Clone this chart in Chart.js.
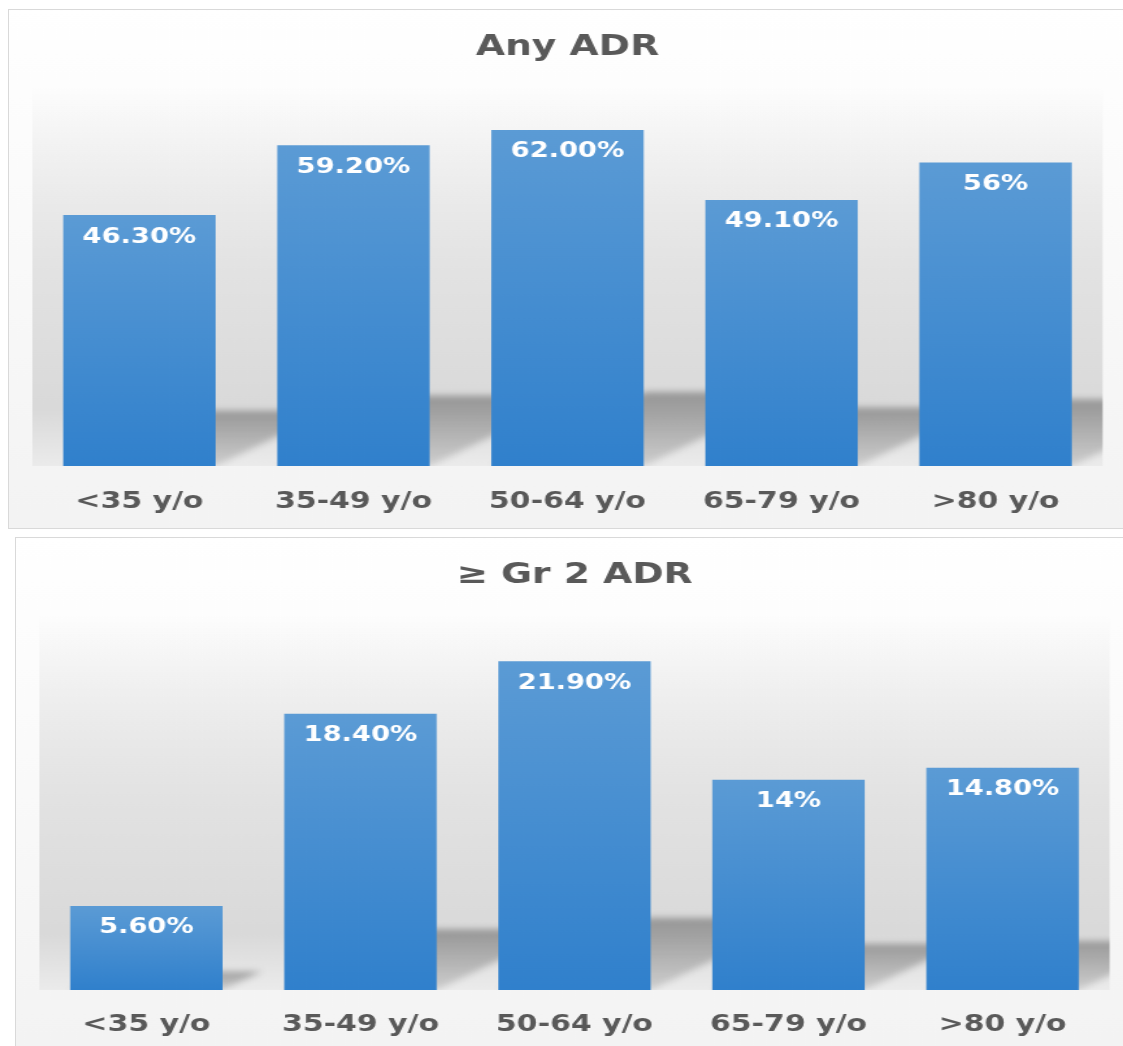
<!DOCTYPE html>
<html>
<head>
<meta charset="utf-8">
<script src="https://cdn.jsdelivr.net/npm/chart.js@4.4.1/dist/chart.umd.min.js"></script>
<style>
  body { margin: 0; background: #fff; overflow: hidden; }
  .panel { position: absolute; border: 1px solid #d9d9d9; }
  #p1 { left: 8px; top: 9px; }
  #p2 { left: 15px; top: 537px; }
</style>
</head>
<body>
<!-- canvases are drawn narrow and stretched wide, like the slide they came from -->
<div class="panel" id="p1"><canvas id="anyAdr" width="858" height="518" style="width:1115px;height:518px"></canvas></div>
<div class="panel" id="p2"><canvas id="gr2Adr" width="858" height="518" style="width:1115px;height:518px"></canvas></div>
<script>
const ageGroups = ["<35 y/o", "35-49 y/o", "50-64 y/o", "65-79 y/o", ">80 y/o"];

const anyAdr = [46.3, 59.2, 62.0, 49.1, 56];
const anyAdrText = ["46.30%", "59.20%", "62.00%", "49.10%", "56%"];

const gr2Adr = [5.6, 18.4, 21.9, 14, 14.8];
const gr2AdrText = ["5.60%", "18.40%", "21.90%", "14%", "14.80%"];

const FONT = "'DejaVu Sans'";
const GREY = "#595959";

// panel wash + darker plot floor
const panelBackground = {
  id: "panelBackground",
  beforeDraw(chart) {
    const { ctx, width, height, chartArea: a } = chart;
    ctx.save();
    let g = ctx.createLinearGradient(0, 0, 0, height);
    g.addColorStop(0, "#ffffff");
    g.addColorStop(1, "#f3f3f3");
    ctx.fillStyle = g;
    ctx.fillRect(0, 0, width, height);
    g = ctx.createLinearGradient(0, a.top, 0, a.bottom);
    g.addColorStop(0, "rgba(220,220,220,0)");
    g.addColorStop(0.5, "#e2e2e2");
    g.addColorStop(0.85, "#d9d9d9");
    g.addColorStop(1, "#ebebeb");
    ctx.fillStyle = g;
    ctx.fillRect(a.left, a.top, a.right - a.left, a.bottom - a.top);
    ctx.restore();
  }
};

// slanted floor shadow cast to the right of each bar
const barShadow = {
  id: "barShadow",
  beforeDatasetsDraw(chart) {
    const { ctx, chartArea: a } = chart;
    ctx.save();
    ctx.beginPath();
    ctx.rect(a.left, a.top, a.right - a.left, a.bottom - a.top);
    ctx.clip();
    ctx.filter = "blur(3px)";
    chart.getDatasetMeta(0).data.forEach(bar => {
      const sh = (bar.base - bar.y) * 0.22;
      const dx = sh * 1.6;
      const x0 = bar.x - bar.width / 2;
      const x1 = bar.x + bar.width / 2;
      const g = ctx.createLinearGradient(0, bar.base - sh, 0, bar.base);
      g.addColorStop(0, "rgba(0,0,0,0.30)");
      g.addColorStop(1, "rgba(0,0,0,0.12)");
      ctx.fillStyle = g;
      ctx.beginPath();
      ctx.moveTo(x0, bar.base);
      ctx.lineTo(x1, bar.base);
      ctx.lineTo(x1 + dx, bar.base - sh);
      ctx.lineTo(x0 + dx, bar.base - sh);
      ctx.closePath();
      ctx.fill();
    });
    ctx.restore();
  }
};

// white value text just inside the top of each bar
const valueText = {
  id: "valueText",
  afterDatasetsDraw(chart, args, opts) {
    const ctx = chart.ctx;
    ctx.save();
    ctx.font = "bold 21px " + FONT;
    ctx.fillStyle = "#ffffff";
    ctx.textAlign = "center";
    ctx.textBaseline = "middle";
    chart.getDatasetMeta(0).data.forEach((bar, i) => {
      ctx.fillText(opts.text[i], bar.x, bar.y + 22);
    });
    ctx.restore();
  }
};

function barFill(c) {
  const chart = c.chart;
  if (!chart.chartArea) return "#4a8fd2";
  const y = chart.scales.y;
  const top = y.getPixelForValue(c.raw);
  const bottom = y.getPixelForValue(0);
  const g = chart.ctx.createLinearGradient(0, top, 0, bottom);
  g.addColorStop(0, "#5b9bd5");
  g.addColorStop(1, "#3080cc");
  return g;
}

function makeChart(id, title, values, text, yMax, tickPad, bottomPad) {
  return new Chart(document.getElementById(id), {
    type: "bar",
    data: {
      labels: ageGroups,
      datasets: [{
        data: values,
        backgroundColor: barFill,
        borderWidth: 0,
        barPercentage: 0.89,
        categoryPercentage: 0.8
      }]
    },
    options: {
      responsive: false,
      devicePixelRatio: 1,
      animation: false,
      layout: { padding: { left: 18, right: 16.5, top: 0, bottom: bottomPad } },
      plugins: {
        legend: { display: false },
        tooltip: { enabled: false },
        title: {
          display: true,
          text: title,
          color: GREY,
          font: { family: FONT, size: 29, weight: "bold" },
          padding: { top: 20, bottom: 21.8 }
        },
        valueText: { text: text }
      },
      scales: {
        x: {
          grid: { display: false, drawTicks: false },
          border: { display: false },
          ticks: { color: GREY, font: { family: FONT, size: 23, weight: "bold" }, padding: tickPad },
          // one padding above the labels, none below
          afterFit(scale) { scale.height = tickPad + 27.6; }
        },
        y: { display: false, min: 0, max: yMax }
      }
    },
    plugins: [panelBackground, barShadow, valueText]
  });
}

makeChart("anyAdr", "Any ADR", anyAdr, anyAdrText, 70, 22.2, 12.2);
makeChart("gr2Adr", "\u2265 Gr 2 ADR", gr2Adr, gr2AdrText, 25, 21.2, 17.2);
</script>
</body>
</html>
